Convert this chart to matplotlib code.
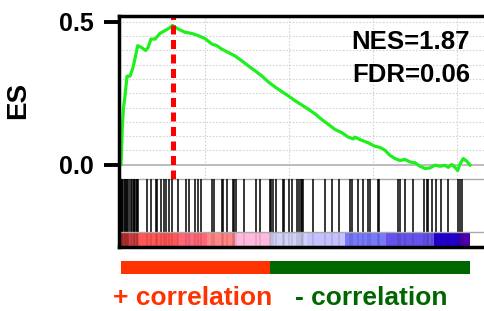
import numpy as np
import matplotlib
matplotlib.use("Agg")
import matplotlib.pyplot as plt

plt.rcParams['font.family'] = ['Liberation Sans', 'DejaVu Sans']
plt.rcParams['font.weight'] = 'bold'

W, H = 485, 311

# running enrichment score along the ranked list
es_rank = [0, 77, 149, 238, 358, 536, 715, 864, 995, 1234, 1472, 1609, 1788, 2026,
           2324, 2622, 2920, 3069, 3415, 3814, 4213, 4606, 5006, 5405, 5703, 6001,
           6394, 6793, 7193, 7586, 7986, 8384, 8778, 9177, 9576, 9969, 10369, 10768,
           11161, 11560, 11960, 12353, 12752, 13152, 13545, 13843, 13944, 14343,
           14737, 15136, 15434, 15732, 16030, 16328, 16626, 16924, 17222, 17520,
           17818, 18116, 18414, 18712, 19009, 19307, 19504, 19707, 19903, 20064,
           20201, 20398, 20600, 20800]
es_value = [0.0, 0.13, 0.20, 0.24, 0.31, 0.31, 0.34, 0.38, 0.417, 0.41, 0.40, 0.41,
            0.44, 0.44, 0.46, 0.47, 0.48, 0.488, 0.475, 0.464, 0.46, 0.452, 0.442,
            0.423, 0.417, 0.405, 0.393, 0.381, 0.364, 0.346, 0.329, 0.311, 0.29,
            0.272, 0.256, 0.241, 0.224, 0.209, 0.194, 0.178, 0.158, 0.141, 0.123,
            0.112, 0.096, 0.090, 0.096, 0.085, 0.076, 0.064, 0.060, 0.050, 0.032,
            0.021, 0.014, 0.018, 0.009, 0.006, -0.006, -0.014, -0.012, -0.002,
            -0.006, -0.003, -0.010, 0.0, -0.010, -0.021, 0.002, 0.021, 0.012, -0.002]

# positions of gene set members in the ranked list
hit_rank = [0, 30, 89, 149, 209, 268, 328, 375, 477, 596, 685, 745, 804, 864, 924,
            983, 1025, 1531, 1770, 2056, 2145, 2354, 2562, 2652, 2831, 3057, 3367,
            3891, 4052, 4439, 4588, 4767, 5441, 5560, 6001, 6096, 6328, 6656, 6752,
            6853, 7359, 8027, 8301, 8879, 8938, 9075, 9218, 9636, 9695, 10023,
            10202, 10506, 10595, 10708, 10804, 10863, 11418, 12180, 12574, 12979,
            13623, 13748, 14123, 14439, 14719, 14838, 15315, 15386, 16524, 16649,
            16924, 17400, 18074, 18235, 18324, 18532, 18794, 19093, 19468, 20082,
            20172, 20338]

peak_rank = 3069
n_genes = 20800
zero_cross = 8879

# ranked-metric heat bar
band_start = [0, 450, 1030, 3415, 5107, 6793, 8879, 11064, 13348, 15792, 18652, 20201]
band_color = ['#c93434', '#e04545', '#ff5656', '#ff6677', '#ff8686', '#ffb9dd',
              '#d2d2f8', '#c5c1ff', '#7878fa', '#6452ea', '#2200cc', '#4b00a8']

nes_text = "NES=1.87"
fdr_text = "FDR=0.06"


def px_box(x0, y0, x1, y1):
    return [x0 / W, 1 - y1 / H, (x1 - x0) / W, (y1 - y0) / H]


xlim = (-137, 22585)
fig = plt.figure(figsize=(W / 100, H / 100), dpi=100)

ax_es = fig.add_axes(px_box(118.7, 16, 500, 178.5))
ax_hit = fig.add_axes(px_box(118.7, 178.5, 500, 231.5))
ax_cb = fig.add_axes(px_box(118.7, 231.5, 500, 247))
ax_bar = fig.add_axes(px_box(118.7, 261, 500, 274))
frame = fig.add_axes(px_box(118.7, 16, 500, 247), zorder=5)
frame.patch.set_visible(False)
frame.set_xticks([])
frame.set_yticks([])
for s in ['left', 'top', 'bottom']:
    frame.spines[s].set_linewidth(2.5)
frame.spines['right'].set_visible(False)

# enrichment plot
ax_es.set_xlim(xlim)
ax_es.set_ylim(-0.049, 0.521)
for y in np.arange(0.05, 0.501, 0.05):
    ax_es.axhline(y, color='#d4d4d4', lw=0.8, ls=(0, (1.5, 1.5)), zorder=0)
for x in [5000, 10000, 15000, 20000]:
    ax_es.axvline(x, color='#d4d4d4', lw=0.8, ls=(0, (1.5, 1.5)), zorder=0)
ax_es.axhline(0, color='#b0b0b0', lw=1.2, zorder=1)
ax_es.plot(es_rank, es_value, color='#1ef01e', lw=2.3, zorder=3)
ax_es.axvline(peak_rank, color='#ff0000', lw=3.6, dashes=(1.8, 1.1), zorder=4)
for s in ['left', 'top', 'right']:
    ax_es.spines[s].set_visible(False)
ax_es.spines['bottom'].set_color('#aaaaaa')
ax_es.spines['bottom'].set_linewidth(1)
ax_es.set_xticks([])
ax_es.set_yticks([0, 0.5])
ax_es.set_yticklabels(['0.0', '0.5'])
ax_es.tick_params(axis='y', direction='out', length=11, width=2.8, labelsize=18, pad=7)

# hits
ax_hit.vlines(hit_rank, 0, 1, color='black', lw=1.1)
ax_hit.set_xlim(xlim)
ax_hit.set_ylim(0, 1)
ax_hit.axis('off')

# heat bar
band_width = np.diff(band_start + [n_genes])
ax_cb.bar(band_start, 1, width=band_width, align='edge', color=band_color, lw=0)
ax_cb.vlines(hit_rank, 0, 1, color='black', alpha=0.12, lw=1.1)
ax_cb.set_xlim(xlim)
ax_cb.set_ylim(0, 1.0)
ax_cb.set_xticks([])
ax_cb.set_yticks([])
for s in ['left', 'bottom', 'right']:
    ax_cb.spines[s].set_visible(False)
ax_cb.spines['top'].set_color('#aaaaaa')
ax_cb.spines['top'].set_linewidth(1)

# correlation bar
ax_bar.barh(0, zero_cross, left=0, height=1, color='#ff3300')
ax_bar.barh(0, n_genes - zero_cross, left=zero_cross, height=1, color='#006600')
ax_bar.set_xlim(xlim)
ax_bar.set_ylim(-0.5, 0.5)
ax_bar.axis('off')

fig.text(18 / W, 1 - 100 / H, 'ES', rotation=90, ha='center', va='center', fontsize=20)
fig.text(470 / W, 1 - 49.3 / H, nes_text, ha='right', va='baseline', fontsize=18.5)
fig.text(470 / W, 1 - 81.7 / H, fdr_text, ha='right', va='baseline', fontsize=18.5)
fig.text(113 / W, 1 - 305 / H, '+ correlation', color='#ff3300', ha='left', va='baseline', fontsize=19)
fig.text(295 / W, 1 - 305 / H, '- correlation', color='#006600', ha='left', va='baseline', fontsize=19)

fig.savefig('out.png', dpi=100)
